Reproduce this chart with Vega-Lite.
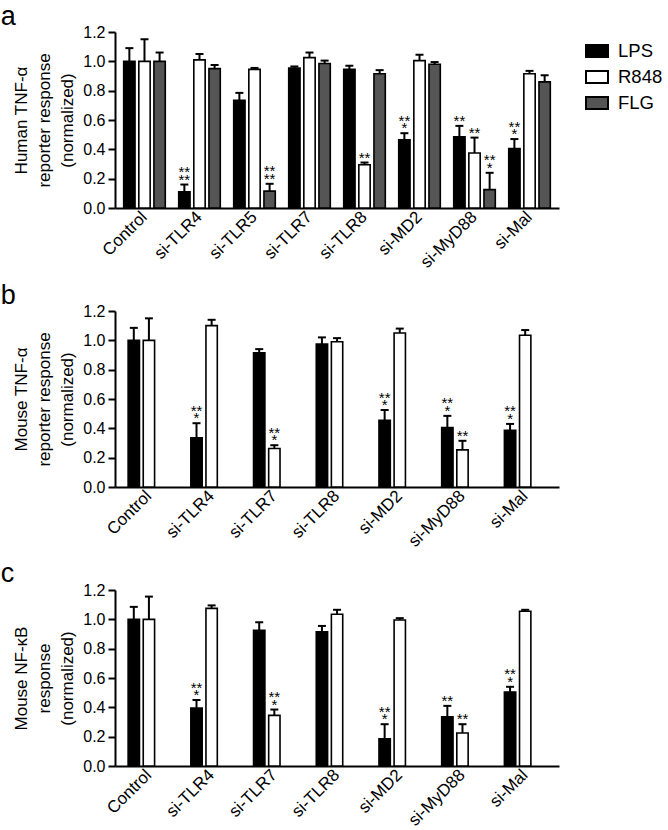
{
  "$schema": "https://vega.github.io/schema/vega-lite/v6.json",
  "background": "white",
  "padding": {"left": 0, "top": 2, "right": 0, "bottom": 0},
  "spacing": 10,
  "config": {
    "font": "Liberation Sans",
    "view": {"stroke": null},
    "axis": {"grid": false, "domainColor": "black", "domainWidth": 2, "tickColor": "black", "tickWidth": 2, "labelColor": "black", "labelFont": "Liberation Sans", "titleFont": "Liberation Sans", "titleColor": "black"},
    "axisX": {"labelAngle": -45, "labelAlign": "right", "labelBaseline": "middle", "labelFontSize": 17, "ticks": false, "labelPadding": 6, "title": null},
    "axisY": {"labelFontSize": 16, "tickSize": 7, "labelPadding": 3, "titleFontSize": 17, "titleFontWeight": "normal", "titleLineHeight": 23, "titlePadding": 6, "values": [0, 0.2, 0.4, 0.6, 0.8, 1.0, 1.2], "format": ".1f"},
    "legend": {"orient": "none", "legendX": 470, "legendY": 7, "title": null, "symbolType": "M-1,-0.55H1V0.55H-1Z", "symbolSize": 484, "symbolStrokeColor": "black", "symbolStrokeWidth": 2, "labelFontSize": 18.5, "labelFont": "Liberation Sans", "labelColor": "black", "labelOffset": 9, "rowPadding": 3},
    "title": {"anchor": "start", "frame": "bounds", "fontSize": 27, "fontWeight": "normal", "font": "Liberation Sans", "color": "black", "dx": -12, "offset": -11}
  },
  "datasets": {
    "a": [
      {"group": "Control", "treat": "LPS", "val": 1.0, "hi": 1.09, "s1": "", "s2": ""},
      {"group": "Control", "treat": "R848", "val": 1.0, "hi": 1.15, "s1": "", "s2": ""},
      {"group": "Control", "treat": "FLG", "val": 1.0, "hi": 1.06, "s1": "", "s2": ""},
      {"group": "si-TLR4", "treat": "LPS", "val": 0.11, "hi": 0.16, "s1": "**", "s2": "**"},
      {"group": "si-TLR4", "treat": "R848", "val": 1.01, "hi": 1.05, "s1": "", "s2": ""},
      {"group": "si-TLR4", "treat": "FLG", "val": 0.95, "hi": 0.975, "s1": "", "s2": ""},
      {"group": "si-TLR5", "treat": "LPS", "val": 0.735, "hi": 0.785, "s1": "", "s2": ""},
      {"group": "si-TLR5", "treat": "R848", "val": 0.945, "hi": 0.955, "s1": "", "s2": ""},
      {"group": "si-TLR5", "treat": "FLG", "val": 0.115, "hi": 0.165, "s1": "**", "s2": "**"},
      {"group": "si-TLR7", "treat": "LPS", "val": 0.955, "hi": 0.965, "s1": "", "s2": ""},
      {"group": "si-TLR7", "treat": "R848", "val": 1.025, "hi": 1.06, "s1": "", "s2": ""},
      {"group": "si-TLR7", "treat": "FLG", "val": 0.985, "hi": 1.005, "s1": "", "s2": ""},
      {"group": "si-TLR8", "treat": "LPS", "val": 0.945, "hi": 0.97, "s1": "", "s2": ""},
      {"group": "si-TLR8", "treat": "R848", "val": 0.295, "hi": 0.31, "s1": "**", "s2": ""},
      {"group": "si-TLR8", "treat": "FLG", "val": 0.915, "hi": 0.94, "s1": "", "s2": ""},
      {"group": "si-MD2", "treat": "LPS", "val": 0.465, "hi": 0.51, "s1": "*", "s2": "**"},
      {"group": "si-MD2", "treat": "R848", "val": 1.005, "hi": 1.045, "s1": "", "s2": ""},
      {"group": "si-MD2", "treat": "FLG", "val": 0.98, "hi": 0.995, "s1": "", "s2": ""},
      {"group": "si-MyD88", "treat": "LPS", "val": 0.485, "hi": 0.56, "s1": "**", "s2": ""},
      {"group": "si-MyD88", "treat": "R848", "val": 0.375, "hi": 0.48, "s1": "**", "s2": ""},
      {"group": "si-MyD88", "treat": "FLG", "val": 0.125, "hi": 0.24, "s1": "*", "s2": "**"},
      {"group": "si-Mal", "treat": "LPS", "val": 0.405, "hi": 0.47, "s1": "*", "s2": "**"},
      {"group": "si-Mal", "treat": "R848", "val": 0.915, "hi": 0.935, "s1": "", "s2": ""},
      {"group": "si-Mal", "treat": "FLG", "val": 0.86, "hi": 0.905, "s1": "", "s2": ""}
    ],
    "b": [
      {"group": "Control", "treat": "LPS", "val": 1.0, "hi": 1.085, "s1": "", "s2": ""},
      {"group": "Control", "treat": "R848", "val": 1.0, "hi": 1.15, "s1": "", "s2": ""},
      {"group": "si-TLR4", "treat": "LPS", "val": 0.335, "hi": 0.435, "s1": "*", "s2": "**"},
      {"group": "si-TLR4", "treat": "R848", "val": 1.10, "hi": 1.14, "s1": "", "s2": ""},
      {"group": "si-TLR7", "treat": "LPS", "val": 0.915, "hi": 0.94, "s1": "", "s2": ""},
      {"group": "si-TLR7", "treat": "R848", "val": 0.262, "hi": 0.285, "s1": "*", "s2": "**"},
      {"group": "si-TLR8", "treat": "LPS", "val": 0.975, "hi": 1.02, "s1": "", "s2": ""},
      {"group": "si-TLR8", "treat": "R848", "val": 0.99, "hi": 1.015, "s1": "", "s2": ""},
      {"group": "si-MD2", "treat": "LPS", "val": 0.455, "hi": 0.525, "s1": "*", "s2": "**"},
      {"group": "si-MD2", "treat": "R848", "val": 1.05, "hi": 1.08, "s1": "", "s2": ""},
      {"group": "si-MyD88", "treat": "LPS", "val": 0.405, "hi": 0.485, "s1": "*", "s2": "**"},
      {"group": "si-MyD88", "treat": "R848", "val": 0.253, "hi": 0.315, "s1": "**", "s2": ""},
      {"group": "si-Mal", "treat": "LPS", "val": 0.387, "hi": 0.43, "s1": "*", "s2": "**"},
      {"group": "si-Mal", "treat": "R848", "val": 1.035, "hi": 1.07, "s1": "", "s2": ""}
    ],
    "c": [
      {"group": "Control", "treat": "LPS", "val": 1.0, "hi": 1.085, "s1": "", "s2": ""},
      {"group": "Control", "treat": "R848", "val": 1.0, "hi": 1.155, "s1": "", "s2": ""},
      {"group": "si-TLR4", "treat": "LPS", "val": 0.395, "hi": 0.45, "s1": "*", "s2": "**"},
      {"group": "si-TLR4", "treat": "R848", "val": 1.075, "hi": 1.095, "s1": "", "s2": ""},
      {"group": "si-TLR7", "treat": "LPS", "val": 0.925, "hi": 0.98, "s1": "", "s2": ""},
      {"group": "si-TLR7", "treat": "R848", "val": 0.345, "hi": 0.385, "s1": "*", "s2": "**"},
      {"group": "si-TLR8", "treat": "LPS", "val": 0.915, "hi": 0.955, "s1": "", "s2": ""},
      {"group": "si-TLR8", "treat": "R848", "val": 1.035, "hi": 1.065, "s1": "", "s2": ""},
      {"group": "si-MD2", "treat": "LPS", "val": 0.185, "hi": 0.285, "s1": "*", "s2": "**"},
      {"group": "si-MD2", "treat": "R848", "val": 0.995, "hi": 1.008, "s1": "", "s2": ""},
      {"group": "si-MyD88", "treat": "LPS", "val": 0.335, "hi": 0.41, "s1": "**", "s2": ""},
      {"group": "si-MyD88", "treat": "R848", "val": 0.225, "hi": 0.285, "s1": "**", "s2": ""},
      {"group": "si-Mal", "treat": "LPS", "val": 0.505, "hi": 0.54, "s1": "*", "s2": "**"},
      {"group": "si-Mal", "treat": "R848", "val": 1.055, "hi": 1.065, "s1": "", "s2": ""}
    ]
  },
  "vconcat": [
    {
      "title": "a",
      "width": 444,
      "height": 176,
      "data": {"name": "a"},
      "encoding": {
        "x": {"field": "group", "type": "nominal", "sort": ["Control", "si-TLR4", "si-TLR5", "si-TLR7", "si-TLR8", "si-MD2", "si-MyD88", "si-Mal"], "scale": {"paddingInner": 0.2, "paddingOuter": 0.136}},
        "xOffset": {"field": "treat", "type": "nominal", "sort": ["LPS", "R848", "FLG"], "scale": {"paddingInner": 0.25, "paddingOuter": 0.08}}
      },
      "layer": [
        {"mark": {"type": "rule", "color": "black", "strokeWidth": 2}, "encoding": {"y": {"field": "val", "type": "quantitative"}, "y2": {"field": "hi"}}},
        {"mark": {"type": "tick", "color": "black", "size": 8, "thickness": 2, "opacity": 1}, "encoding": {"y": {"field": "hi", "type": "quantitative"}}},
        {"mark": {"type": "bar", "stroke": "black", "strokeWidth": 1.6},
          "encoding": {
            "y": {"field": "val", "type": "quantitative", "scale": {"domain": [0, 1.2], "nice": false}, "axis": {"title": ["Human TNF-α", "reporter response", "(normalized)"]}},
            "fill": {"field": "treat", "type": "nominal", "sort": ["LPS", "R848", "FLG"], "scale": {"domain": ["LPS", "R848", "FLG"], "range": ["#000000", "#ffffff", "#555555"]}}
          }},
        {"mark": {"type": "text", "fontSize": 15, "baseline": "bottom", "dy": 3, "color": "black"}, "encoding": {"y": {"field": "hi", "type": "quantitative"}, "text": {"field": "s1"}}},
        {"mark": {"type": "text", "fontSize": 15, "baseline": "bottom", "dy": -4.5, "color": "black"}, "encoding": {"y": {"field": "hi", "type": "quantitative"}, "text": {"field": "s2"}}}
      ]
    },
    {
      "title": "b",
      "width": 444,
      "height": 176,
      "data": {"name": "b"},
      "encoding": {
        "x": {"field": "group", "type": "nominal", "sort": ["Control", "si-TLR4", "si-TLR7", "si-TLR8", "si-MD2", "si-MyD88", "si-Mal"], "scale": {"paddingInner": 0.3, "paddingOuter": 0.19}},
        "xOffset": {"field": "treat", "type": "nominal", "sort": ["LPS", "R848"], "scale": {"paddingInner": 0.25, "paddingOuter": 0.04}}
      },
      "layer": [
        {"mark": {"type": "rule", "color": "black", "strokeWidth": 2}, "encoding": {"y": {"field": "val", "type": "quantitative"}, "y2": {"field": "hi"}}},
        {"mark": {"type": "tick", "color": "black", "size": 8, "thickness": 2, "opacity": 1}, "encoding": {"y": {"field": "hi", "type": "quantitative"}}},
        {"mark": {"type": "bar", "stroke": "black", "strokeWidth": 1.6},
          "encoding": {
            "y": {"field": "val", "type": "quantitative", "scale": {"domain": [0, 1.2], "nice": false}, "axis": {"title": ["Mouse TNF-α", "reporter response", "(normalized)"]}},
            "fill": {"field": "treat", "type": "nominal", "sort": ["LPS", "R848"], "scale": {"domain": ["LPS", "R848"], "range": ["#000000", "#ffffff"]}}
          }},
        {"mark": {"type": "text", "fontSize": 15, "baseline": "bottom", "dy": 3, "color": "black"}, "encoding": {"y": {"field": "hi", "type": "quantitative"}, "text": {"field": "s1"}}},
        {"mark": {"type": "text", "fontSize": 15, "baseline": "bottom", "dy": -4.5, "color": "black"}, "encoding": {"y": {"field": "hi", "type": "quantitative"}, "text": {"field": "s2"}}}
      ]
    },
    {
      "title": "c",
      "width": 444,
      "height": 176,
      "data": {"name": "c"},
      "encoding": {
        "x": {"field": "group", "type": "nominal", "sort": ["Control", "si-TLR4", "si-TLR7", "si-TLR8", "si-MD2", "si-MyD88", "si-Mal"], "scale": {"paddingInner": 0.3, "paddingOuter": 0.19}},
        "xOffset": {"field": "treat", "type": "nominal", "sort": ["LPS", "R848"], "scale": {"paddingInner": 0.25, "paddingOuter": 0.04}}
      },
      "layer": [
        {"mark": {"type": "rule", "color": "black", "strokeWidth": 2}, "encoding": {"y": {"field": "val", "type": "quantitative"}, "y2": {"field": "hi"}}},
        {"mark": {"type": "tick", "color": "black", "size": 8, "thickness": 2, "opacity": 1}, "encoding": {"y": {"field": "hi", "type": "quantitative"}}},
        {"mark": {"type": "bar", "stroke": "black", "strokeWidth": 1.6},
          "encoding": {
            "y": {"field": "val", "type": "quantitative", "scale": {"domain": [0, 1.2], "nice": false}, "axis": {"title": ["Mouse NF-κB", "response", "(normalized)"]}},
            "fill": {"field": "treat", "type": "nominal", "sort": ["LPS", "R848"], "scale": {"domain": ["LPS", "R848"], "range": ["#000000", "#ffffff"]}}
          }},
        {"mark": {"type": "text", "fontSize": 15, "baseline": "bottom", "dy": 3, "color": "black"}, "encoding": {"y": {"field": "hi", "type": "quantitative"}, "text": {"field": "s1"}}},
        {"mark": {"type": "text", "fontSize": 15, "baseline": "bottom", "dy": -4.5, "color": "black"}, "encoding": {"y": {"field": "hi", "type": "quantitative"}, "text": {"field": "s2"}}}
      ]
    }
  ]
}
